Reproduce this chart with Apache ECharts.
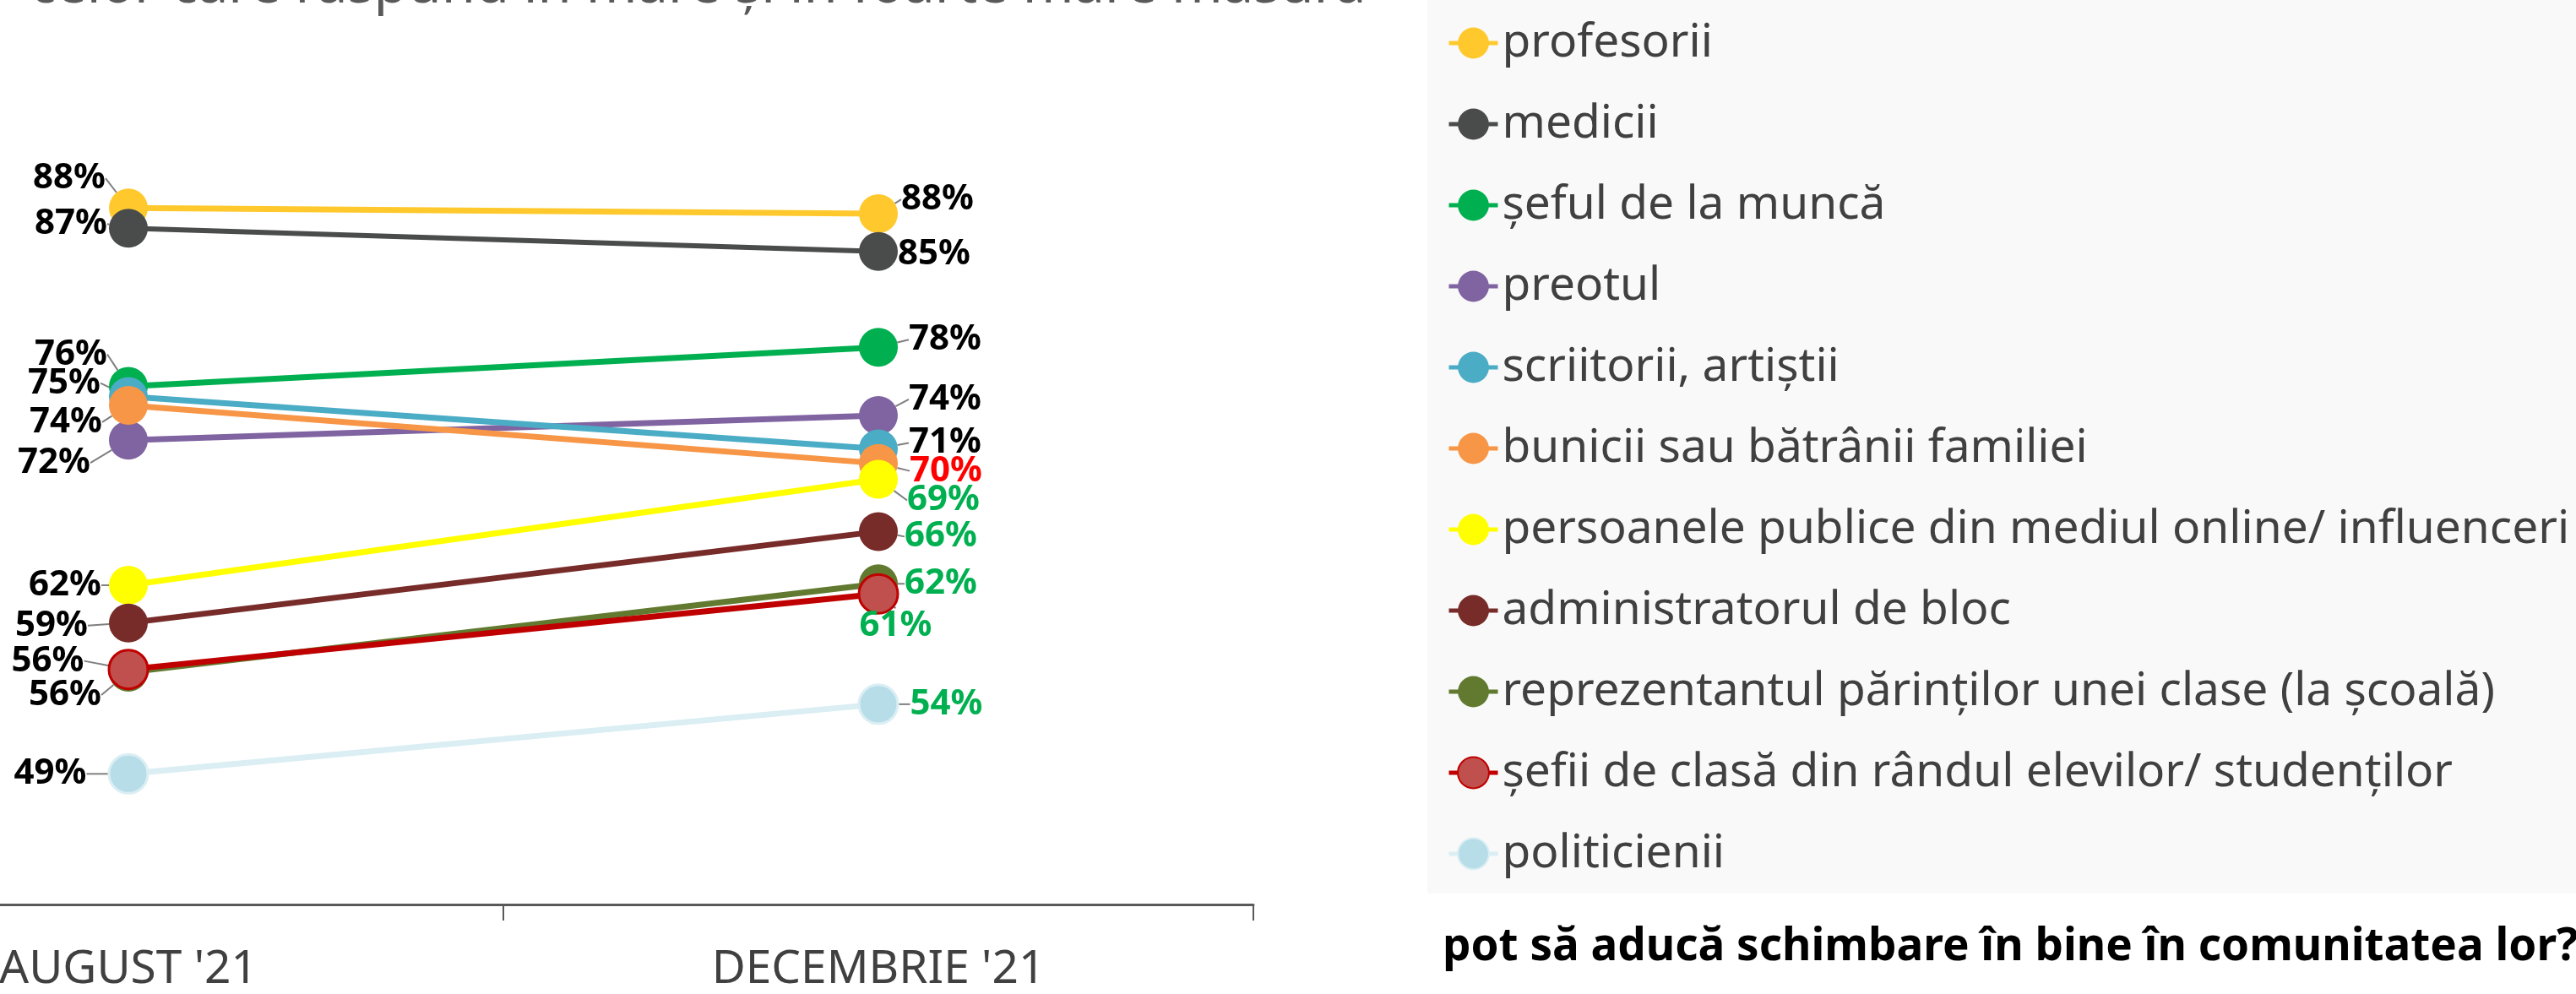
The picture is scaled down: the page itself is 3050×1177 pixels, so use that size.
<!DOCTYPE html>
<html>
<head>
<meta charset="utf-8">
<script src="https://cdn.jsdelivr.net/npm/echarts@6/dist/echarts.min.js"></script>
<style>
  html, body { margin: 0; padding: 0; background: #fff; }
  #main { width: 3050px; height: 1177px; }
</style>
</head>
<body>
<div id="main"></div>
<script>
// categorii (axa x)
var periods = ["AUGUST '21", "DECEMBRIE '21"]

// grupurile, in ordinea din legenda
var groups = [
  'profesorii',
  'medicii',
  'șeful de la muncă',
  'preotul',
  'scriitorii, artiștii',
  'bunicii sau bătrânii familiei',
  'persoanele publice din mediul online/ influenceri',
  'administratorul de bloc',
  'reprezentantul părinților unei clase (la școală)',
  'șefii de clasă din rândul elevilor/ studenților',
  'politicienii'
]

// valori (%)
var august = [88.0, 86.6, 75.7, 72.0, 75.0, 74.4, 62.0, 59.4, 56.0, 56.2, 49.0]
var decembrie = [87.6, 85.0, 78.4, 73.7, 71.4, 70.4, 69.3, 65.7, 62.1, 61.4, 53.8]

var titleText = 'celor care răspund în mare și în foarte mare măsură'
var questionText = 'pot să aducă schimbare în bine în comunitatea lor?'

// stiluri
var lineColors = ['#FFC92E', '#4A4C4B', '#00B050', '#8064A2', '#4BACC6', '#F79646', '#FFFF00', '#772C2A', '#617A30', '#C00000', '#DAEEF3']
var fillColors = ['#FFC92E', '#4A4C4B', '#00B050', '#8064A2', '#4BACC6', '#F79646', '#FFFF00', '#772C2A', '#617A30', '#C0504D', '#B7DDE8']
var borderColors = [null, null, null, null, null, null, null, null, null, '#C00000', '#DAEEF3']
var decLabelColors = ['#000', '#000', '#000', '#000', '#000', '#FF0000', '#00B050', '#00B050', '#00B050', '#00B050', '#00B050']
// deplasari etichete [aug, dec] -> [dx, dy]
var nudges = [
  [[0, -35], [0, -17]],
  [[2, -5], [-4, 3]],
  [[2, -38], [9, -9]],
  [[-18, 27], [9, -19]],
  [[-6, -16], [9, -7]],
  [[-4, 20], [10, 9]],
  [[-5, 0], [7, 25]],
  [[-21, 3], [4, 6]],
  [[-5, 27], [4, 0]],
  [[-24, -10], [-51, 38]],
  [[-21, 0], [9, 0]]
]

var FONT = "'Noto Sans', 'DejaVu Sans', sans-serif"

var myChart = echarts.init(document.getElementById('main'))

var series = groups.map(function (name, i) {
  return {
    name: name,
    type: 'line',
    symbol: 'circle',
    symbolSize: 46,
    showAllSymbol: true,
    data: [
      { value: august[i], label: { position: 'left' } },
      { value: decembrie[i], label: { position: 'right', color: decLabelColors[i] } }
    ],
    lineStyle: { width: i === 1 ? 6 : 7, color: lineColors[i] },
    itemStyle: {
      color: fillColors[i],
      borderColor: borderColors[i] || fillColors[i],
      borderWidth: borderColors[i] ? 3 : 0
    },
    label: {
      show: true,
      distance: 4,
      fontFamily: FONT,
      fontSize: 42,
      fontWeight: 'bold',
      color: '#000',
      formatter: function (p) {
        return Math.round(p.value) + '%'
      }
    },
    labelLine: {
      show: true,
      lineStyle: { color: '#7F7F7F', width: 2 }
    },
    labelLayout: function (p) {
      var n = nudges[i][p.dataIndex]
      return { dx: n[0], dy: n[1] }
    },
    emphasis: { disabled: true },
    animation: false
  }
})

var option = {
  backgroundColor: '#fff',
  animation: false,
  grid: {
    left: -292,
    right: 1566,
    top: 40,
    bottom: 106,
    containLabel: false,
    outerBoundsMode: 'none'
  },
  legend: {
    orient: 'vertical',
    left: 1708,
    top: 16,
    itemWidth: 58,
    itemHeight: 46,
    itemGap: 36,
    data: groups,
    lineStyle: { width: 5 },
    textStyle: {
      fontFamily: FONT,
      fontSize: 55,
      lineHeight: 60,
      color: '#404040'
    },
    selectedMode: false
  },
  xAxis: {
    type: 'category',
    data: periods,
    boundaryGap: true,
    axisLine: { show: true, lineStyle: { color: '#595959', width: 3 } },
    axisTick: { show: true, inside: false, length: 19, lineStyle: { color: '#595959', width: 2 } },
    axisLabel: {
      fontFamily: FONT,
      fontSize: 55,
      color: '#404040',
      margin: 50
    }
  },
  yAxis: {
    type: 'value',
    min: 40,
    max: 100,
    show: false
  },
  graphic: [
    {
      type: 'rect',
      left: 1690,
      top: 0,
      z: -10,
      shape: { width: 1360, height: 1058 },
      style: { fill: '#F9F9F9' }
    },
    {
      type: 'text',
      left: 35,
      top: -48,
      style: {
        text: titleText,
        font: '65px ' + FONT,
        lineHeight: 65,
        fill: '#595959'
      }
    },
    {
      type: 'text',
      left: 1708,
      top: 1090,
      style: {
        text: questionText,
        font: 'bold 53px ' + FONT,
        lineHeight: 64,
        fill: '#000'
      }
    }
  ],
  series: series
}

option && myChart.setOption(option)
</script>
</body>
</html>
